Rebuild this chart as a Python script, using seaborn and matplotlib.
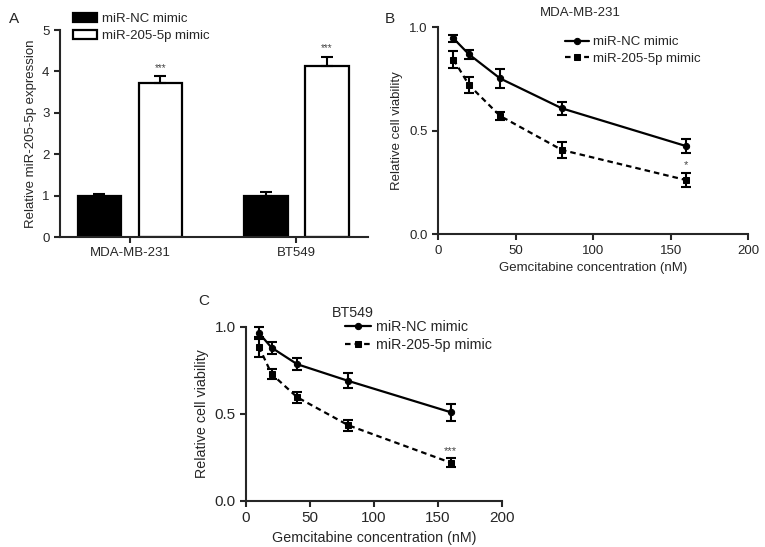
import numpy as np
import pandas as pd
import matplotlib
matplotlib.use("Agg")
import matplotlib.pyplot as plt
import seaborn as sns

# Panel A data
cell_lines = ["MDA-MB-231", "BT549"]
groups = ["miR-NC mimic", "miR-205-5p mimic"]
expr_nc = [1.0, 1.0]
expr_205 = [3.72, 4.14]
expr_nc_err = [0.05, 0.08]
expr_205_err = [0.16, 0.22]

# Panels B and C data
conc = [10, 20, 40, 80, 160]
mda_nc = [0.945, 0.868, 0.752, 0.607, 0.425]
mda_nc_err = [0.015, 0.02, 0.045, 0.03, 0.035]
mda_205 = [0.843, 0.72, 0.571, 0.406, 0.261]
mda_205_err = [0.04, 0.04, 0.02, 0.04, 0.035]
bt_nc = [0.966, 0.881, 0.786, 0.69, 0.51]
bt_nc_err = [0.035, 0.035, 0.035, 0.043, 0.048]
bt_205 = [0.887, 0.73, 0.596, 0.435, 0.22]
bt_205_err = [0.057, 0.03, 0.032, 0.03, 0.026]

sns.set_style("ticks")
plt.rcParams["font.family"] = ["Liberation Sans", "DejaVu Sans"]
plt.rcParams["axes.linewidth"] = 1.5
plt.rcParams["xtick.major.width"] = 1.5
plt.rcParams["ytick.major.width"] = 1.5
plt.rcParams["xtick.major.size"] = 4
plt.rcParams["ytick.major.size"] = 4

fig = plt.figure(figsize=(7.65, 5.47), dpi=100)
axA = fig.add_axes([0.0784, 0.5667, 0.4026, 0.3783])
axB = fig.add_axes([0.5725, 0.572, 0.4055, 0.3786])
axC = fig.add_axes([0.3216, 0.0841, 0.3346, 0.3181])

# ---- Panel A ----
dfA = pd.DataFrame({
    "cell": cell_lines * 2,
    "group": [groups[0]] * 2 + [groups[1]] * 2,
    "value": expr_nc + expr_205,
})
sns.barplot(data=dfA, x="cell", y="value", hue="group", order=cell_lines,
            hue_order=groups, palette={groups[0]: "black", groups[1]: "white"},
            edgecolor="black", linewidth=1.6, width=0.735, gap=0.29,
            errorbar=None, ax=axA)
errs = [expr_nc_err, expr_205_err]
for cont, err in zip(axA.containers, errs):
    xs = [b.get_x() + b.get_width() / 2 for b in cont]
    ys = [b.get_height() for b in cont]
    axA.errorbar(xs, ys, yerr=[np.zeros(len(err)), err], fmt="none",
                 ecolor="black", elinewidth=1.5, capsize=4, capthick=1.5, zorder=1)
    if cont is axA.containers[1]:
        for x, y, e in zip(xs, ys, err):
            axA.text(x, y + e + 0.08, "***", ha="center", va="bottom",
                     fontsize=7, color="#444444")
axA.set_xlim(-0.42, 1.43)
axA.set_ylim(0, 5)
axA.set_yticks([0, 1, 2, 3, 4, 5])
axA.set_xlabel("")
axA.set_ylabel("Relative miR-205-5p expression", fontsize=9.5)
axA.tick_params(labelsize=9.5)
sns.despine(ax=axA)
axA.legend(loc="upper left", bbox_to_anchor=(0.0954, 0.976),
           bbox_transform=fig.transFigure, frameon=False, fontsize=9.5,
           borderpad=0, borderaxespad=0, handlelength=1.8, handleheight=0.7,
           handletextpad=0.4, labelspacing=0.35)
fig.text(0.012, 0.978, "A", fontsize=11, va="top")


def viability_panel(ax, nc, nc_err, m205, m205_err, title, star, fs, tfs,
                    leg_xy, title_xy):
    df = pd.DataFrame({
        "conc": conc * 2,
        "viab": nc + m205,
        "group": [groups[0]] * len(conc) + [groups[1]] * len(conc),
    })
    sns.lineplot(data=df, x="conc", y="viab", style="group", style_order=groups,
                 markers={groups[0]: "o", groups[1]: "s"},
                 dashes={groups[0]: "", groups[1]: (2.5, 1.8)},
                 color="black", linewidth=1.6, markersize=4.5,
                 markeredgecolor="black", ax=ax, clip_on=False)
    ax.errorbar(conc, nc, yerr=nc_err, fmt="none", ecolor="black",
                elinewidth=1.5, capsize=3.5, capthick=1.5, clip_on=False)
    ax.errorbar(conc, m205, yerr=m205_err, fmt="none", ecolor="black",
                elinewidth=1.5, capsize=3.5, capthick=1.5, clip_on=False)
    ax.text(conc[-1], m205[-1] + m205_err[-1] + 0.015, star, ha="center",
            va="bottom", fontsize=8, color="#444444")
    ax.set_xlim(0, 200)
    ax.set_ylim(0, 1.0)
    ax.set_xticks([0, 50, 100, 150, 200])
    ax.set_yticks([0.0, 0.5, 1.0])
    ax.set_yticklabels(["0.0", "0.5", "1.0"])
    ax.set_xlabel("Gemcitabine concentration (nM)", fontsize=fs)
    ax.set_ylabel("Relative cell viability", fontsize=fs)
    ax.tick_params(labelsize=tfs)
    sns.despine(ax=ax)
    ax.legend(loc="upper left", bbox_to_anchor=leg_xy,
              bbox_transform=fig.transFigure, frameon=False, fontsize=fs,
              borderpad=0, borderaxespad=0, handlelength=1.8,
              handletextpad=0.35, labelspacing=0.3)
    fig.text(title_xy[0], title_xy[1], title, fontsize=fs, ha="center",
             va="center")


viability_panel(axB, mda_nc, mda_nc_err, mda_205, mda_205_err, "MDA-MB-231",
                "*", 9.5, 9.5, (0.7386, 0.934), (0.758, 0.976))
fig.text(0.503, 0.978, "B", fontsize=11, va="top")

viability_panel(axC, bt_nc, bt_nc_err, bt_205, bt_205_err, "BT549",
                "***", 10.3, 11, (0.451, 0.415), (0.461, 0.428))
fig.text(0.259, 0.462, "C", fontsize=11, va="top")

fig.savefig("out.png", dpi=100)
